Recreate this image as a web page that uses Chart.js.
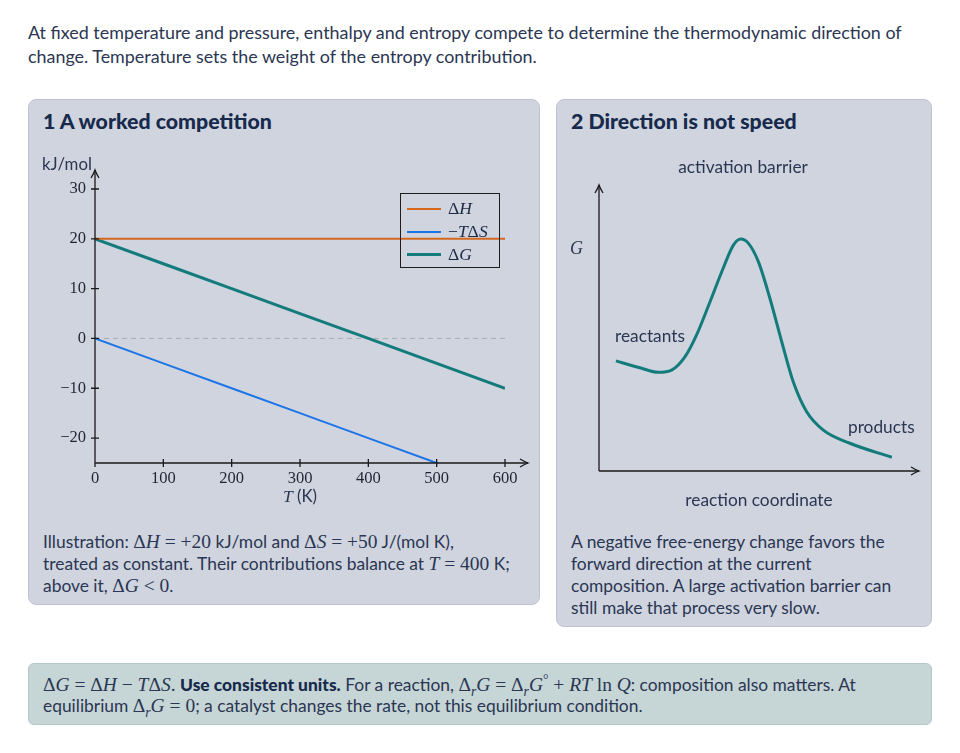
<!DOCTYPE html>
<html>
<head>
<meta charset="utf-8">
<script src="https://cdn.jsdelivr.net/npm/chart.js@4.4.1/dist/chart.umd.min.js"></script>
<style>
  body { margin: 0; width: 960px; height: 753px; background: #fff; font-family: Lato, "Noto Sans", sans-serif; color: #2b3652; position: relative; overflow: hidden; }
  .abs { position: absolute; }
  .intro { left: 28px; top: 20px; width: 910px; font-size: 17.9px; line-height: 24px; white-space: nowrap; }
  .panel { background: #cfd4df; border: 1px solid #bdc3d0; border-radius: 8px; box-sizing: border-box; }
  .panel h2 { position: absolute; left: 14px; top: 8px; margin: 0; font-size: 21.3px; font-weight: 900; color: #172a4c; }
  .cap { font-size: 17.4px; line-height: 22px; white-space: nowrap; }
  .m { font-family: "Liberation Serif", "DejaVu Serif", serif; font-size: 1.12em; }
  .m i { font-style: italic; }
  .lbl { font-size: 17.3px; white-space: nowrap; }
  .legend { left: 400px; top: 193px; width: 100px; height: 75px; border: 1.5px solid #1d1d1d; box-sizing: border-box; }
  .legend div { position: absolute; left: 6px; height: 23px; display: flex; align-items: center; }
  .legend span.ln { display: inline-block; width: 34px; margin-right: 7px; }
  .legend span.tx { font-family: "Liberation Serif", serif; font-size: 17.5px; color: #1d2a44; }
  .note { left: 28px; top: 663px; width: 904px; height: 62px; background: #c6d5d6; border: 1px solid #b6c7c9; border-radius: 6px; box-sizing: border-box; padding: 10px 14px; font-size: 17.4px; line-height: 21px; white-space: nowrap; }
  sub, sup { font-size: 0.7em; line-height: 0; }
</style>
</head>
<body>
<div class="abs intro">At fixed temperature and pressure, enthalpy and entropy compete to determine the thermodynamic direction of<br>change. Temperature sets the weight of the entropy contribution.</div>

<div class="abs panel" style="left:28px; top:99px; width:512px; height:506px;">
  <h2>1 A worked competition</h2>
  <div class="abs cap" style="left:14px; top:431px;">Illustration: <span class="m">Δ<i>H</i> = +20</span> kJ/mol and <span class="m">Δ<i>S</i> = +50</span> J/(mol K),<br>treated as constant. Their contributions balance at <span class="m"><i>T</i> = 400</span> K;<br>above it, <span class="m">Δ<i>G</i> &lt; 0</span>.</div>
</div>
<div class="abs panel" style="left:556px; top:99px; width:376px; height:528px;">
  <h2>2 Direction is not speed</h2>
  <div class="abs cap" style="left:14px; top:431px;">A negative free-energy change favors the<br>forward direction at the current<br>composition. A large activation barrier can<br>still make that process very slow.</div>
</div>

<div class="abs" style="left:38px; top:150px; width:495px; height:362px;"><canvas id="workedChart"></canvas></div>
<div class="abs legend" id="legend"></div>

<div class="abs" style="left:560px; top:150px; width:372px; height:370px;"><canvas id="barrierChart"></canvas></div>
<div class="abs lbl" style="left:743px; top:156px; transform:translateX(-50%);">activation barrier</div>
<div class="abs lbl m" style="left:570px; top:238px; font-style:italic; font-size:18px;">G</div>
<div class="abs lbl" style="left:615px; top:325px;">reactants</div>
<div class="abs lbl" style="left:848px; top:416px;">products</div>
<div class="abs lbl" style="left:759px; top:489px; transform:translateX(-50%);">reaction coordinate</div>

<div class="abs note"><span class="m">Δ<i>G</i> = Δ<i>H</i> − <i>T</i>Δ<i>S</i>.</span> <b style="color:#172a4c; font-weight:900;">Use consistent units.</b> For a reaction, <span class="m">Δ<sub><i>r</i></sub><i>G</i> = Δ<sub><i>r</i></sub><i>G</i><sup>°</sup> + <i>RT</i> ln <i>Q</i></span>: composition also matters. At<br>equilibrium <span class="m">Δ<sub><i>r</i></sub><i>G</i> = 0</span>; a catalyst changes the rate, not this equilibrium condition.</div>

<script>
// worked example: dH = +20 kJ/mol, dS = +50 J/(mol K)
const temps = [0, 100, 200, 300, 400, 500, 600];
const enthalpy = [20, 20, 20, 20, 20, 20, 20];
const entropyTerm = [0, -5, -10, -15, -20, -25, -30];
const gibbs = [20, 15, 10, 5, 0, -5, -10];
const yTicks = [-20, -10, 0, 10, 20, 30];
const seriesNames = ['ΔH', '−TΔS', 'ΔG'];
const seriesHtml = ['Δ<i>H</i>', '−<i>T</i>Δ<i>S</i>', 'Δ<i>G</i>'];

// schematic free-energy profile
const reactionCoord = [0.53, 1.28, 1.85, 2.27, 2.69, 3.05, 3.47, 3.88, 4.2, 4.43, 4.67, 4.98, 5.34, 5.71, 6.07, 6.49, 7.01, 7.84, 9.15];
const gibbsProfile = [3.85, 3.61, 3.45, 3.53, 4.0, 4.76, 5.92, 7.09, 7.9, 8.11, 7.96, 7.32, 6.04, 4.52, 3.12, 2.07, 1.43, 0.97, 0.48];

const ORANGE = '#d4681f';
const BLUE = '#1c74e6';
const TEAL = '#137b7b';
const INK = '#1a1a1a';
const MATH = '"Liberation Serif", "DejaVu Serif", serif';
const SANS = 'Lato, "Noto Sans", sans-serif';

function arrowHead(ctx, x, y, dir) {
    ctx.beginPath();
    if (dir === 'right') {
        ctx.moveTo(x - 8, y - 4);
        ctx.quadraticCurveTo(x - 3, y - 1, x, y);
        ctx.quadraticCurveTo(x - 3, y + 1, x - 8, y + 4);
    } else {
        ctx.moveTo(x - 4, y + 8);
        ctx.quadraticCurveTo(x - 1, y + 3, x, y);
        ctx.quadraticCurveTo(x + 1, y + 3, x + 4, y + 8);
    }
    ctx.stroke();
}

const workedAxes = {
    id: 'workedAxes',
    beforeDatasetsDraw(chart) {
        const { ctx, chartArea: a, scales } = chart;
        const y0 = scales.y.getPixelForValue(0);
        ctx.save();
        ctx.strokeStyle = '#a9adb6';
        ctx.lineWidth = 1;
        ctx.setLineDash([5, 4]);
        ctx.beginPath();
        ctx.moveTo(a.left, y0);
        ctx.lineTo(a.right, y0);
        ctx.stroke();
        ctx.restore();
    },
    afterDatasetsDraw(chart) {
        const { ctx, chartArea: a, scales } = chart;
        ctx.save();
        ctx.strokeStyle = INK;
        ctx.lineWidth = 1.3;
        ctx.beginPath();
        ctx.moveTo(a.left, a.bottom);
        ctx.lineTo(a.right + 23, a.bottom);
        ctx.moveTo(a.left, a.bottom);
        ctx.lineTo(a.left, a.top - 19);
        scales.x.ticks.forEach(t => {
            const px = scales.x.getPixelForValue(t.value);
            ctx.moveTo(px, a.bottom - 4);
            ctx.lineTo(px, a.bottom + 4);
        });
        scales.y.ticks.forEach(t => {
            const py = scales.y.getPixelForValue(t.value);
            ctx.moveTo(a.left - 4, py);
            ctx.lineTo(a.left + 4, py);
        });
        ctx.stroke();
        arrowHead(ctx, a.right + 23, a.bottom, 'right');
        arrowHead(ctx, a.left, a.top - 19, 'up');

        // axis labels
        ctx.fillStyle = '#2b3652';
        ctx.textBaseline = 'middle';
        ctx.font = '16.8px ' + SANS;
        ctx.textAlign = 'left';
        ctx.fillText('kJ/mol', a.left - 53, a.top - 24);
        const cx = scales.x.getPixelForValue(300);
        ctx.font = 'italic 17.5px ' + MATH;
        const tw = ctx.measureText('T').width;
        ctx.font = '16.8px ' + SANS;
        const kw = ctx.measureText(' (K)').width;
        const sx = cx - (tw + kw) / 2;
        ctx.font = 'italic 17.5px ' + MATH;
        ctx.fillText('T', sx, a.bottom + 34);
        ctx.font = '16.8px ' + SANS;
        ctx.fillText(' (K)', sx + tw, a.bottom + 34);
        ctx.restore();
    }
};

const workedChart = new Chart(document.getElementById('workedChart'), {
    type: 'line',
    data: {
        labels: temps,
        datasets: [
            { label: seriesNames[0], data: enthalpy, borderColor: ORANGE, borderWidth: 2 },
            { label: seriesNames[1], data: entropyTerm, borderColor: BLUE, borderWidth: 2 },
            { label: seriesNames[2], data: gibbs, borderColor: TEAL, borderWidth: 3 }
        ]
    },
    options: {
        responsive: true,
        maintainAspectRatio: false,
        animation: false,
        elements: { point: { radius: 0 }, line: { tension: 0 } },
        layout: { padding: { top: 39, right: 28, left: 0, bottom: 0 } },
        plugins: { legend: { display: false }, tooltip: { enabled: false } },
        scales: {
            x: {
                type: 'linear', min: 0, max: 600,
                grid: { display: false, drawTicks: false }, border: { display: false },
                ticks: { stepSize: 100, padding: 6, color: '#1f2433', font: { family: MATH, size: 16.5 } },
                afterFit: s => { s.height = 49; }
            },
            y: {
                min: -25, max: 30,
                grid: { display: false, drawTicks: false }, border: { display: false },
                afterBuildTicks: s => { s.ticks = yTicks.map(v => ({ value: v })); },
                ticks: {
                    padding: 9, color: '#1f2433', font: { family: MATH, size: 16.5 },
                    callback: v => v < 0 ? '−' + Math.abs(v) : String(v)
                },
                afterFit: s => { s.width = 57; }
            }
        }
    },
    plugins: [workedAxes]
});

// legend built from the datasets
const legendEl = document.getElementById('legend');
workedChart.data.datasets.forEach((ds, i) => {
    const row = document.createElement('div');
    row.style.top = (3 + i * 23) + 'px';
    row.innerHTML = '<span class="ln" style="border-top:' + ds.borderWidth + 'px solid ' + ds.borderColor + '"></span><span class="tx">' + seriesHtml[i] + '</span>';
    legendEl.appendChild(row);
});

const barrierAxes = {
    id: 'barrierAxes',
    afterDatasetsDraw(chart) {
        const { ctx, chartArea: a } = chart;
        ctx.save();
        ctx.strokeStyle = INK;
        ctx.lineWidth = 1.3;
        ctx.beginPath();
        ctx.moveTo(a.left, a.bottom);
        ctx.lineTo(a.right, a.bottom);
        ctx.moveTo(a.left, a.bottom);
        ctx.lineTo(a.left, a.top);
        ctx.stroke();
        arrowHead(ctx, a.right, a.bottom, 'right');
        arrowHead(ctx, a.left, a.top, 'up');
        ctx.restore();
    }
};

new Chart(document.getElementById('barrierChart'), {
    type: 'line',
    data: {
        datasets: [{
            label: 'G',
            data: reactionCoord.map((x, i) => ({ x, y: gibbsProfile[i] })),
            borderColor: TEAL,
            borderWidth: 3,
            cubicInterpolationMode: 'monotone'
        }]
    },
    options: {
        responsive: true,
        maintainAspectRatio: false,
        animation: false,
        elements: { point: { radius: 0 } },
        layout: { padding: { top: 35, right: 13, left: 39, bottom: 49 } },
        plugins: { legend: { display: false }, tooltip: { enabled: false } },
        scales: {
            x: { type: 'linear', min: 0, max: 10, display: false },
            y: { min: 0, max: 10, display: false }
        }
    },
    plugins: [barrierAxes]
});
</script>
</body>
</html>
